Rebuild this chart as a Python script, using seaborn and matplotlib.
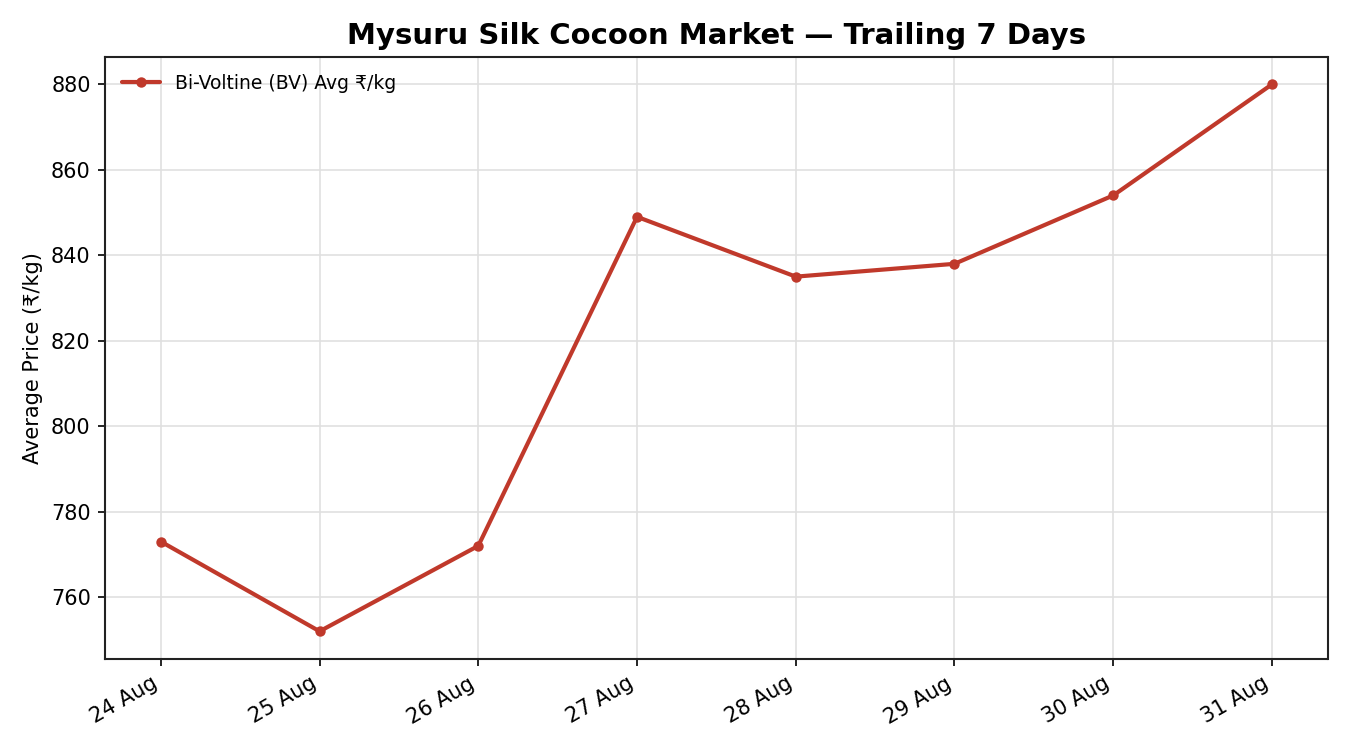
import pandas as pd
import seaborn as sns
import matplotlib.pyplot as plt
import matplotlib.dates as mdates

# Data
dates = ["2024-08-24", "2024-08-25", "2024-08-26", "2024-08-27",
         "2024-08-28", "2024-08-29", "2024-08-30", "2024-08-31"]
bv_avg = [773, 752, 772, 849, 835, 838, 854, 880]

df = pd.DataFrame({"date": pd.to_datetime(dates), "price": bv_avg})

sns.set_style("ticks")
plt.rcParams['font.family'] = ['DejaVu Sans']
plt.rcParams['text.color'] = 'black'
plt.rcParams['axes.labelcolor'] = 'black'
plt.rcParams['xtick.color'] = 'black'
plt.rcParams['ytick.color'] = 'black'

fig, ax = plt.subplots(figsize=(9, 5), dpi=150)

sns.lineplot(data=df, x="date", y="price", ax=ax, color="#c0392b",
             linewidth=2.0, marker="o", markersize=5, markeredgewidth=0,
             label="Bi-Voltine (BV) Avg ₹/kg")

ax.grid(True, color="#e0e0e0", linewidth=0.8)
ax.set_axisbelow(True)
for s in ax.spines.values():
    s.set_color("#222222")
    s.set_linewidth(1.0)

ax.xaxis.set_major_locator(mdates.DayLocator())
ax.xaxis.set_major_formatter(mdates.DateFormatter("%d %b"))
ax.tick_params(labelsize=10)

ax.set_title("Mysuru Silk Cocoon Market — Trailing 7 Days",
             fontsize=14, fontweight="bold", color="black")
ax.set_xlabel("")
ax.set_ylabel("Average Price (₹/kg)", fontsize=10)
ax.legend(loc="upper left", frameon=False, fontsize=9)

fig.autofmt_xdate()
plt.tight_layout()
plt.savefig("out.png")
